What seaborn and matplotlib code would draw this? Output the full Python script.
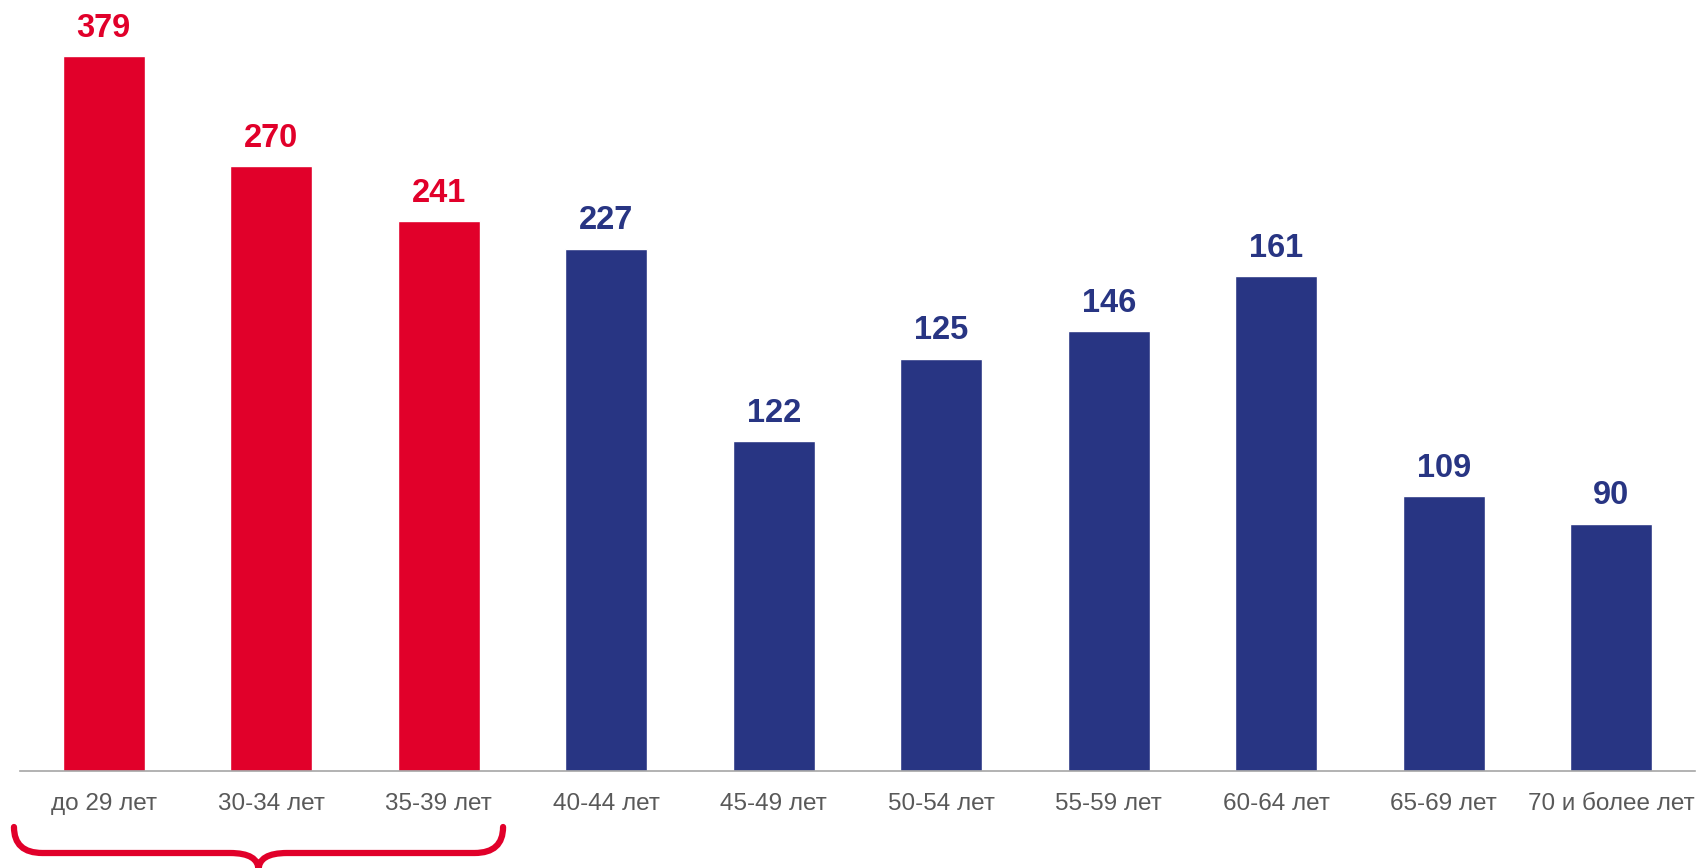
import matplotlib
matplotlib.use("Agg")
import matplotlib.pyplot as plt
import matplotlib.transforms as mtransforms
from matplotlib.path import Path
from matplotlib.patches import PathPatch
import seaborn as sns
import pandas as pd

# Данные
categories = ["до 29 лет", "30-34 лет", "35-39 лет", "40-44 лет", "45-49 лет",
              "50-54 лет", "55-59 лет", "60-64 лет", "65-69 лет", "70 и более лет"]
# подписи над столбцами
labels = [379, 270, 241, 227, 122, 125, 146, 161, 109, 90]
# высота столбцов на исходном графике (не пропорциональна подписям)
heights = [26, 22, 20, 19, 12, 15, 16, 18, 10, 9]
groups = ["young", "young", "young", "other", "other",
          "other", "other", "other", "other", "other"]

RED = "#E1002A"
BLUE = "#283583"
palette = {"young": RED, "other": BLUE}

sns.set_style("white")
plt.rcParams["font.family"] = ["Liberation Sans", "DejaVu Sans"]

df = pd.DataFrame({"cat": categories, "val": heights, "grp": groups})

fig = plt.figure(figsize=(17.01, 8.68), dpi=100)
ax = fig.add_axes([20 / 1701, 97 / 868, 1675 / 1701, 771 / 868])

sns.barplot(data=df, x="cat", y="val", hue="grp", palette=palette,
            dodge=False, width=0.49, legend=False, saturation=1, ax=ax)

ax.set_xlim(-0.5, 9.5)
ax.set_ylim(0, 28.04)

# подписи значений
for i, (h, lab) in enumerate(zip(heights, labels)):
    ax.annotate(str(lab), (i, h), xytext=(0, 20), textcoords="offset points",
                ha="center", va="center", fontsize=23.5, fontweight="bold",
                color=palette[groups[i]])

# оси
for s in ["top", "right", "left"]:
    ax.spines[s].set_visible(False)
ax.spines["bottom"].set_color("#A6A6A6")
ax.spines["bottom"].set_linewidth(1.2)
ax.set_yticks([])
ax.set_xlabel("")
ax.set_ylabel("")
ax.set_xticks(range(len(categories)))
ax.set_xticklabels(categories, fontsize=17.5, color="#595959")
ax.tick_params(axis="x", which="major", length=0, pad=16)
ax.set_xticks([i - 0.5 for i in range(len(categories) + 1)], minor=True)
ax.tick_params(axis="x", which="minor", length=6, width=1.2, color="#A6A6A6", direction="out")

# фигурная скобка под первыми тремя группами
trans = mtransforms.blended_transform_factory(ax.transData, fig.transFigure)
x0, x1, xc = -0.536, 2.384, 0.924
rx = 0.17
y_top = 1 - 827 / 868
y_mid = 1 - 853 / 868
y_tip = 1 - 870 / 868
verts = [
    (x0, y_top), (x0, y_mid), (x0 + rx, y_mid),
    (xc - rx, y_mid), (xc, y_mid), (xc, y_tip),
    (xc, y_mid), (xc + rx, y_mid),
    (x1 - rx, y_mid), (x1, y_mid), (x1, y_top),
]
codes = [Path.MOVETO, Path.CURVE3, Path.CURVE3,
         Path.LINETO, Path.CURVE3, Path.CURVE3,
         Path.CURVE3, Path.CURVE3,
         Path.LINETO, Path.CURVE3, Path.CURVE3]
brace = PathPatch(Path(verts, codes), transform=trans, facecolor="none",
                  edgecolor=RED, linewidth=4.5, clip_on=False, capstyle="round")
fig.patches.append(brace)

fig.savefig("out.png", dpi=100)
